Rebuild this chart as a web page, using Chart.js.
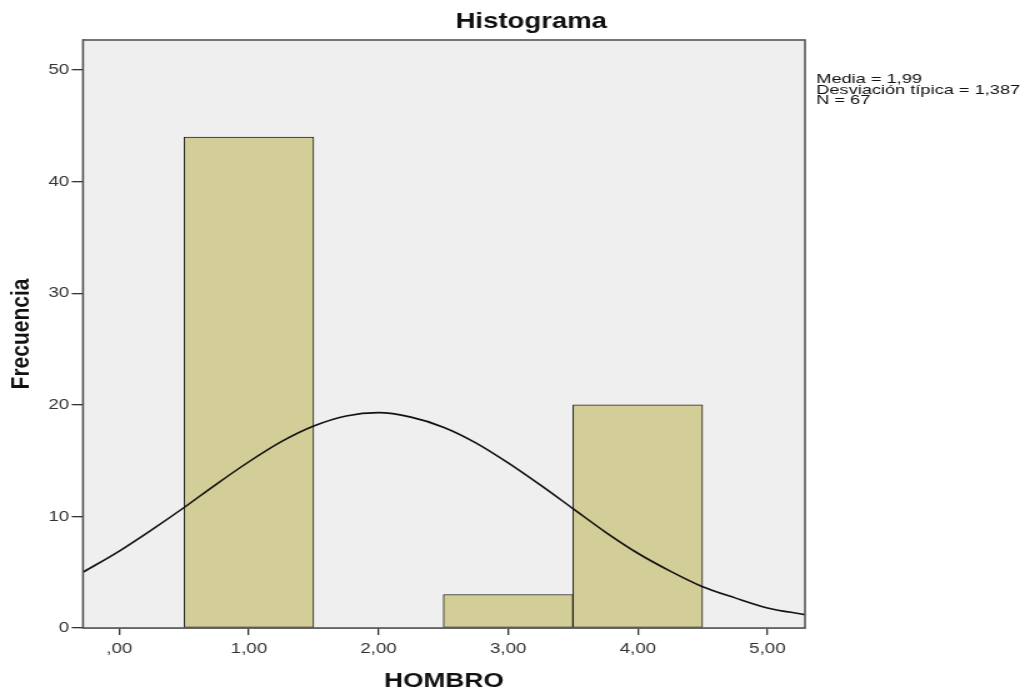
<!DOCTYPE html>
<html>
<head>
<meta charset="utf-8">
<script src="https://cdn.jsdelivr.net/npm/chart.js@4.4.0/dist/chart.umd.min.js"></script>
<style>
  html, body { margin: 0; padding: 0; background: #fff; overflow: hidden; }
  #wrap { width: 1029px; height: 692px; }
  /* the SPSS export is stretched sideways, so draw narrow and widen */
  #histChart { display: block; transform: scaleX(1.25); transform-origin: 0 0; }
</style>
</head>
<body>
<div id="wrap"><canvas id="histChart" width="823" height="692"></canvas></div>
<script>
// histogram bins (centres) and counts
const binCenters = [1, 3, 4];
const binCounts = [44, 3, 20];

// normal curve
const curveX = [-0.28, 0, 0.25, 0.5, 0.75, 1, 1.25, 1.5, 1.75, 2, 2.25, 2.5, 2.75, 3, 3.25, 3.5, 3.75, 4, 4.25, 4.5, 4.75, 5, 5.29];
const curveY = [5.0, 6.9, 8.8, 10.8, 12.9, 14.9, 16.7, 18.1, 19.0, 19.3, 18.9, 18.0, 16.6, 14.8, 12.8, 10.7, 8.6, 6.7, 5.1, 3.7, 2.7, 1.8, 1.2];

const xTicks = [0, 1, 2, 3, 4, 5];
const yTicks = [0, 10, 20, 30, 40, 50];

const statLines = ['Media = 1,99', 'Desviación típica = 1,387', 'N = 67'];
const chartTitle = 'Histograma';

const FONT = "'Liberation Sans', Arial, sans-serif";

const fmtX = v => {
  const s = v.toFixed(2).replace('.', ',');
  return s.startsWith('0,') ? s.slice(1) : s;
};

const plotFrame = {
  id: 'plotFrame',
  beforeDatasetsDraw(chart) {
    const { ctx, chartArea: a } = chart;
    ctx.save();
    ctx.fillStyle = '#efefef';
    ctx.fillRect(a.left, a.top, a.right - a.left, a.bottom - a.top);
    ctx.restore();
  },
  afterDraw(chart) {
    const { ctx, chartArea: a } = chart;
    ctx.save();
    ctx.strokeStyle = '#555';
    ctx.lineWidth = 1.6;
    ctx.strokeRect(a.left, a.top, a.right - a.left, a.bottom - a.top);

    ctx.fillStyle = '#111';
    ctx.font = `bold 22px ${FONT}`;
    ctx.textAlign = 'center';
    ctx.textBaseline = 'middle';
    ctx.fillText(chartTitle, 425, 22);

    // stats box text is a bit wider than the rest
    ctx.font = `13px ${FONT}`;
    ctx.textAlign = 'left';
    ctx.textBaseline = 'alphabetic';
    ctx.translate(653, 0);
    ctx.scale(1.12, 1);
    statLines.forEach((t, i) => ctx.fillText(t, 0, 83 + i * 10.6));
    ctx.restore();
  }
};

const ctx = document.getElementById('histChart');
new Chart(ctx, {
  data: {
    datasets: [
      {
        type: 'bar',
        label: 'Frecuencia',
        data: binCenters.map((x, i) => ({ x, y: binCounts[i] })),
        backgroundColor: '#d3ce97',
        borderColor: '#222',
        borderWidth: 1,
        borderSkipped: false,
        barPercentage: 1,
        categoryPercentage: 1,
        grouped: false,
        order: 2
      },
      {
        type: 'line',
        label: 'Normal',
        data: curveX.map((x, i) => ({ x, y: curveY[i] })),
        borderColor: '#111',
        borderWidth: 1.6,
        pointRadius: 0,
        fill: false,
        cubicInterpolationMode: 'monotone',
        order: 1
      }
    ]
  },
  options: {
    responsive: false,
    animation: false,
    devicePixelRatio: 1,
    layout: { padding: { left: 0, right: 179, top: 40, bottom: 0 } },
    plugins: {
      legend: { display: false },
      title: { display: false },
      tooltip: { enabled: false }
    },
    scales: {
      x: {
        type: 'linear',
        min: -0.28,
        max: 5.29,
        offset: false,
        afterBuildTicks: s => { s.ticks = xTicks.map(v => ({ value: v })); },
        afterFit: s => { s.height = 64; },
        grid: { offset: false, drawOnChartArea: false, drawTicks: true, tickLength: 7, color: '#333', lineWidth: 1.3 },
        border: { display: true, color: '#555', width: 1.6 },
        ticks: { color: '#333', padding: 5, font: { family: FONT, size: 15 }, callback: v => fmtX(v), maxRotation: 0 },
        title: { display: true, text: 'HOMBRO', color: '#111', font: { family: FONT, size: 21, weight: 'bold', lineHeight: 1 }, padding: { top: 0, bottom: 0 } }
      },
      y: {
        min: 0,
        max: 52.7,
        afterBuildTicks: s => { s.ticks = yTicks.map(v => ({ value: v })); },
        afterFit: s => { s.width = 66.4; },
        grid: { drawOnChartArea: false, drawTicks: true, tickLength: 9, color: '#333', lineWidth: 1.3 },
        border: { display: true, color: '#555', width: 1.6 },
        ticks: { color: '#333', padding: 2, font: { family: FONT, size: 15 } },
        title: { display: true, text: 'Frecuencia', color: '#111', font: { family: FONT, size: 21, weight: 'bold', lineHeight: 1.2 }, padding: { top: 5, bottom: 0 } }
      }
    }
  },
  plugins: [plotFrame]
});
</script>
</body>
</html>
